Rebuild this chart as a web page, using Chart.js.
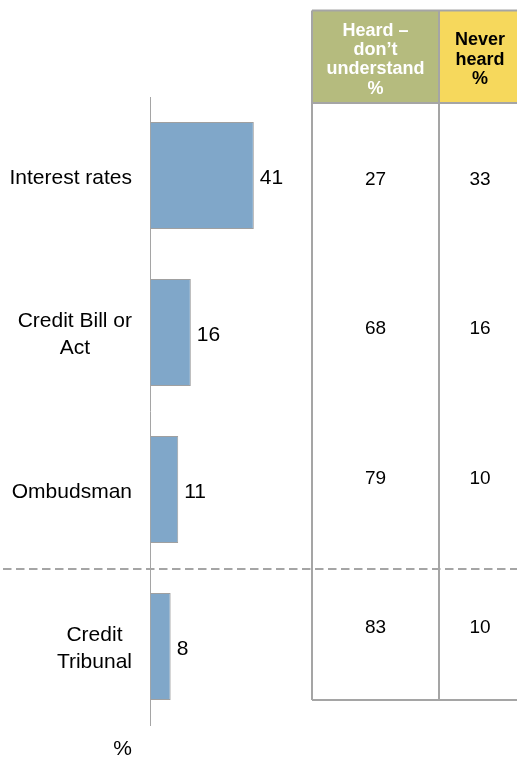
<!DOCTYPE html>
<html>
<head>
<meta charset="UTF-8">
<title>Awareness of credit terms</title>
<script src="https://cdn.jsdelivr.net/npm/chart.js@4.4.1/dist/chart.umd.min.js"></script>
<style>
  body { margin: 0; background: #fff; }
  #wrap { position: relative; width: 517px; height: 758px; }
</style>
</head>
<body>
<div id="wrap"><canvas id="awarenessChart" width="517" height="758"></canvas></div>
<script>
// Survey data
var categories = ['Interest rates', 'Credit Bill or\nAct', 'Ombudsman', 'Credit\nTribunal'];
var heardUnderstand = [41, 16, 11, 8];
var heardDontUnderstand = [27, 68, 79, 83];
var neverHeard = [33, 16, 10, 10];
var tableHeaders = [['Heard –', 'don’t', 'understand', '%'], ['Never', 'heard', '%']];
var axisUnit = '%';

var FONT = '"Liberation Sans", Arial, sans-serif';
var GREY = '#a5a5a5';

// right-hand table block
var tbl = { left: 312, mid: 439, right: 521, top: 10.5, headBottom: 103, bottom: 700 };
var headFills = ['#b5bb7e', '#f6d85c'];
var headColors = ['#ffffff', '#000000'];

var overlay = {
    id: 'overlay',
    afterDraw: function(chart) {
        var ctx = chart.ctx;
        var yScale = chart.scales.y;
        var bars = chart.getDatasetMeta(0).data;
        var labelRight = chart.chartArea.left - 18.5;

        ctx.save();

        // category labels: lines centred within a right-aligned block
        ctx.font = '21px ' + FONT;
        ctx.fillStyle = '#000';
        ctx.textBaseline = 'alphabetic';
        ctx.textAlign = 'center';
        categories.forEach(function(cat, i) {
            var lines = cat.split('\n');
            var w = Math.max.apply(null, lines.map(function(l) { return ctx.measureText(l).width; }));
            var cx = labelRight - w / 2;
            var cy = yScale.getPixelForValue(i);
            var lh = 27;
            var y0 = cy - (lines.length - 1) * lh / 2 + 8;
            lines.forEach(function(l, k) { ctx.fillText(l, cx, y0 + k * lh); });
        });

        // value labels at bar ends
        ctx.textAlign = 'left';
        bars.forEach(function(bar, i) {
            ctx.fillText(String(heardUnderstand[i]), bar.x + 6, bar.y + 8.5);
        });

        // unit under the axis
        ctx.textAlign = 'right';
        ctx.fillText(axisUnit, labelRight, 755);

        // table header fills
        ctx.fillStyle = headFills[0];
        ctx.fillRect(tbl.left, tbl.top, tbl.mid - tbl.left, tbl.headBottom - tbl.top);
        ctx.fillStyle = headFills[1];
        ctx.fillRect(tbl.mid, tbl.top, tbl.right - tbl.mid, tbl.headBottom - tbl.top);

        // table borders
        ctx.strokeStyle = GREY;
        ctx.lineWidth = 2;
        ctx.beginPath();
        ctx.moveTo(tbl.left, tbl.top); ctx.lineTo(tbl.left, tbl.bottom);
        ctx.moveTo(tbl.mid, tbl.top); ctx.lineTo(tbl.mid, tbl.bottom);
        ctx.moveTo(tbl.right, tbl.top); ctx.lineTo(tbl.right, tbl.bottom);
        ctx.moveTo(tbl.left, tbl.top); ctx.lineTo(tbl.right, tbl.top);
        ctx.moveTo(tbl.left, tbl.headBottom); ctx.lineTo(tbl.right, tbl.headBottom);
        ctx.moveTo(tbl.left, tbl.bottom); ctx.lineTo(tbl.right, tbl.bottom);
        ctx.stroke();

        // header text
        var colCx = [(tbl.left + tbl.mid) / 2, (tbl.mid + tbl.right) / 2];
        var headMid = (tbl.top + tbl.headBottom) / 2;
        ctx.font = 'bold 18px ' + FONT;
        ctx.textAlign = 'center';
        tableHeaders.forEach(function(lines, c) {
            ctx.fillStyle = headColors[c];
            var lh = 19.3;
            var y0 = headMid - (lines.length - 1) * lh / 2 + 8;
            lines.forEach(function(l, k) { ctx.fillText(l, colCx[c], y0 + k * lh); });
        });

        // table values, rows split evenly down the body
        ctx.font = '19px ' + FONT;
        ctx.fillStyle = '#000';
        var rowH = (tbl.bottom - tbl.headBottom) / categories.length;
        categories.forEach(function(cat, i) {
            var ry = tbl.headBottom + rowH * (i + 0.5) + 7.5;
            ctx.fillText(String(heardDontUnderstand[i]), colCx[0], ry);
            ctx.fillText(String(neverHeard[i]), colCx[1], ry);
        });

        // dashed separator between the last two categories
        var sepY = (yScale.getPixelForValue(2) + yScale.getPixelForValue(3)) / 2 + 1;
        ctx.strokeStyle = GREY;
        ctx.lineWidth = 2;
        ctx.setLineDash([8.5, 4.5]);
        ctx.lineDashOffset = -3;
        ctx.beginPath();
        ctx.moveTo(0, sepY);
        ctx.lineTo(chart.width, sepY);
        ctx.stroke();

        ctx.restore();
    }
};

var ctx = document.getElementById('awarenessChart').getContext('2d');
var awarenessChart = new Chart(ctx, {
    type: 'bar',
    data: {
        labels: categories,
        datasets: [{
            label: 'Heard – understand',
            data: heardUnderstand,
            backgroundColor: '#80a7c9',
            borderColor: '#a0a0a0',
            borderWidth: 1,
            categoryPercentage: 1,
            barPercentage: 0.68
        }]
    },
    options: {
        indexAxis: 'y',
        responsive: false,
        animation: false,
        layout: { padding: { left: 150.5, right: 215.3, top: 97, bottom: 33 } },
        plugins: {
            legend: { display: false },
            tooltip: { enabled: false }
        },
        scales: {
            x: { display: false, min: 0, max: 60 },
            y: {
                ticks: { display: false },
                grid: { display: false, drawTicks: false },
                border: { display: true, color: GREY, width: 1 }
            }
        }
    },
    plugins: [overlay]
});
</script>
</body>
</html>
